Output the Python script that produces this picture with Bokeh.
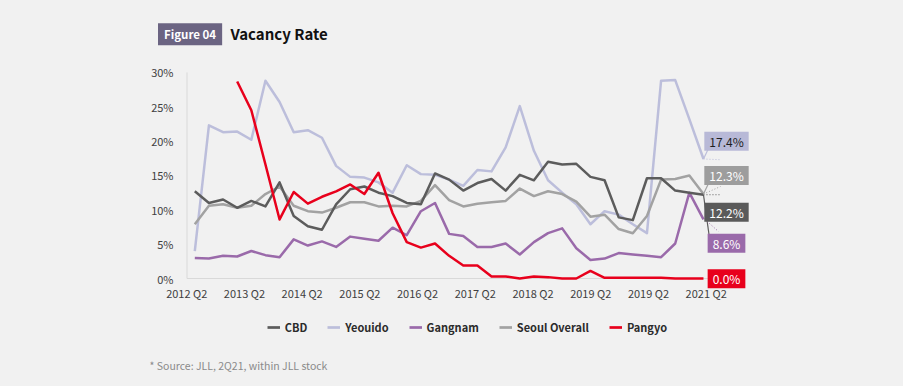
import numpy as np
from bokeh.plotting import figure
from bokeh.layouts import column
from bokeh.models import (Label, Legend, LegendItem, FixedTicker, Range1d,
                          CustomJSTickFormatter)
from bokeh.embed import file_html
from bokeh.resources import INLINE

# ---------------- data ----------------
quarters = list(range(37))  # 2012 Q2 ... 2021 Q2
x_tick_labels = ["2012 Q2", "2013 Q2", "2014 Q2", "2015 Q2", "2016 Q2",
                 "2017 Q2", "2018 Q2", "2019 Q2", "2019 Q2", "2021 Q2"]
y_tick_values = [0, 5, 10, 15, 20, 25, 30]
y_tick_labels = ["0%", "5%", "10%", "15%", "20%", "25%", "30%"]

series_names = ["CBD", "Yeouido", "Gangnam", "Seoul Overall", "Pangyo"]

cbd = [12.7, 11.0, 11.5, 10.3, 11.3, 10.5, 14.0, 9.1, 7.6, 7.1, 10.8, 13.0,
       13.4, 12.5, 12.0, 11.0, 10.8, 15.3, 14.4, 12.8, 13.9, 14.5, 12.8, 15.1,
       14.3, 17.0, 16.6, 16.7, 14.8, 14.3, 8.9, 8.5, 14.6, 14.6, 12.8, 12.5, 12.2]
yeouido = [4.0, 22.3, 21.3, 21.4, 20.2, 28.8, 25.7, 21.3, 21.6, 20.5, 16.4, 14.8,
           14.7, 14.0, 12.5, 16.5, 15.2, 15.1, 14.4, 13.5, 15.8, 15.6, 19.1, 25.1,
           18.6, 14.3, 12.5, 10.8, 7.9, 9.8, 9.3, 7.9, 6.6, 28.8, 28.9, 23.2, 17.4]
gangnam = [3.0, 2.9, 3.3, 3.2, 4.0, 3.4, 3.1, 5.7, 4.8, 5.4, 4.6, 6.1,
           5.8, 5.5, 7.4, 6.3, 9.8, 11.0, 6.5, 6.2, 4.6, 4.6, 5.1, 3.5,
           5.3, 6.6, 7.3, 4.4, 2.7, 2.9, 3.7, 3.5, 3.3, 3.1, 5.1, 12.5, 8.6]
seoul = [7.9, 10.6, 10.8, 10.3, 10.6, 12.3, 13.4, 10.6, 9.8, 9.6, 10.3, 11.1,
         11.1, 10.5, 10.6, 10.5, 11.3, 13.6, 11.4, 10.5, 10.9, 11.1, 11.3, 13.1,
         12.0, 12.7, 12.3, 11.2, 9.0, 9.3, 7.2, 6.6, 9.1, 14.4, 14.5, 15.0, 12.3]
pangyo = [None, None, None, 28.7, 24.5, 16.6, 8.6, 12.6, 10.9, 11.9, 12.7, 13.7,
          12.3, 15.4, 9.5, 5.3, 4.5, 5.1, 3.3, 1.9, 1.9, 0.3, 0.3, 0.0,
          0.3, 0.2, 0.0, 0.0, 1.1, 0.1, 0.1, 0.1, 0.1, 0.1, 0.0, 0.0, 0.0]

last_value_labels = ["12.2%", "17.4%", "8.6%", "12.3%", "0.0%"]

# ---------------- style ----------------
FONT = "Noto Sans CJK KR"
BG = "#f1f1f1"
line_colors = ["#5c5c5c", "#bcbedb", "#9a6aaa", "#a2a2a2", "#e8001c"]
box_colors = ["#5a5a5a", "#b8b9d7", "#9a6aaa", "#9d9d9d", "#e8001c"]
box_text_colors = ["white", "#1e1e1e", "white", "white", "white"]

# page geometry (pixels of the 903x386 page, 8px padding)
M = 8
W = 903 - 2 * M
PX_Q0, PX_DQ = 194.3, 14.13      # x of first quarter, px per quarter
PY_0, PY_PER = 278.0, 6.8667     # y of 0%, px per percent
AXIS_X = 186.5                   # x of the value axis line
F_L, F_R, F_T, F_B = 140, 752, 65, 289
HDR_T, MAIN_T, FTR_T, FTR_B = M, 58, 310, 386 - M


def dx(px):
    return (px - PX_Q0) / PX_DQ


def dy(py):
    return (PY_0 - py) / PY_PER


def blank_fig(top, bottom):
    # frames of the column's figures line up with the chart frame (F_L..F_R)
    f = figure(width=W, height=bottom - top, output_backend="svg",
               toolbar_location=None, x_axis_type=None, y_axis_type=None,
               x_range=Range1d(F_L, F_R), y_range=Range1d(bottom, top),
               min_border=0, min_border_left=F_L - M, min_border_right=(M + W) - F_R,
               min_border_top=0, min_border_bottom=0, title=None,
               background_fill_color=BG, border_fill_color=BG,
               outline_line_color=None)
    return f


# ---------------- header ----------------
hdr = blank_fig(HDR_T, MAIN_T)
hdr.add_layout(Label(x=157.5, y=33.8, text="Figure 04", text_align="left",
                     text_baseline="middle", text_font=FONT, text_font_size="11.5px",
                     text_font_style="bold", text_color="white",
                     background_fill_color="#6b6482",
                     padding=dict(left=6, right=6, top=3, bottom=3)))
hdr.add_layout(Label(x=230, y=32.5, text="Vacancy Rate", text_align="left",
                     text_baseline="middle", text_font=FONT, text_font_size="15px",
                     text_font_style="bold", text_color="#111111"))

# ---------------- main chart ----------------
p = figure(width=W, height=FTR_T - MAIN_T, output_backend="svg",
           toolbar_location=None, title=None,
           x_range=Range1d(dx(F_L), dx(F_R)), y_range=Range1d(dy(F_B), dy(F_T)),
           min_border_left=F_L - M, min_border_right=(M + W) - F_R,
           min_border_top=F_T - MAIN_T, min_border_bottom=FTR_T - F_B,
           background_fill_color=BG, border_fill_color=BG, outline_line_color=None)

p.xgrid.grid_line_color = None
p.ygrid.grid_line_color = None

p.yaxis.ticker = FixedTicker(ticks=y_tick_values)
p.yaxis.major_label_overrides = dict(zip(y_tick_values, y_tick_labels))
p.yaxis.axis_line_color = None
p.yaxis.major_tick_line_color = None
p.yaxis.minor_tick_line_color = None
p.yaxis.major_tick_out = 0
p.yaxis.major_label_standoff = -(173 - F_L)
p.yaxis.major_label_text_font = FONT
p.yaxis.major_label_text_font_size = "11px"
p.yaxis.major_label_text_color = "#404040"

x_ticks = [round(dx(186.2 + 57.72 * k), 3) for k in range(len(x_tick_labels))]
p.xaxis.ticker = FixedTicker(ticks=x_ticks)
p.xaxis.formatter = CustomJSTickFormatter(args=dict(labels=x_tick_labels),
                                          code="return labels[index];")
p.xaxis.axis_line_color = None
p.xaxis.major_tick_line_color = None
p.xaxis.minor_tick_line_color = None
p.xaxis.major_tick_out = 0
p.xaxis.major_label_standoff = -5
p.xaxis.major_label_text_font = FONT
p.xaxis.major_label_text_font_size = "11px"
p.xaxis.major_label_text_color = "#404040"

# value-axis line and 0% baseline
p.segment(x0=[dx(AXIS_X), dx(AXIS_X)], y0=[y_tick_values[0], 0],
          x1=[dx(AXIS_X), quarters[-1] + 0.4], y1=[y_tick_values[-1], 0],
          line_color="#d9d9d9", line_width=1)

values = [cbd, yeouido, gangnam, seoul, pangyo]
draw_order = [1, 3, 2, 0, 4]
for k in draw_order:
    arr = np.array([np.nan if v is None else v for v in values[k]], dtype=float)
    p.line(quarters, arr, line_color=line_colors[k], line_width=2.5,
           line_join="round")

# end-of-line leaders and dotted stubs
last = quarters[-1]
box_x = dx(726)
box_y = {0: dy(211.7), 1: dy(140.8), 2: dy(242.7), 3: dy(175.0), 4: dy(278.3)}
p.segment(x0=[last, last, last], y0=[yeouido[-1], seoul[-1], cbd[-1]],
          x1=[dx(707.5), dx(708), dx(708.5)], y1=[dy(149), dy(183), dy(234)],
          line_color=[line_colors[1], line_colors[3], line_colors[0]], line_width=1.2)
p.segment(x0=[last, last, last, last + 0.1],
          y0=[yeouido[-1], seoul[-1], cbd[-1], gangnam[-1]],
          x1=[dx(720), dx(720), dx(720), dx(718)],
          y1=[yeouido[-1] - 0.1, dy(186), cbd[-1], dy(231)],
          line_color=[line_colors[1], line_colors[3], line_colors[0], line_colors[2]],
          line_width=1, line_dash="1 2")

for k in range(5):
    p.add_layout(Label(x=box_x, y=box_y[k], text=last_value_labels[k],
                       text_align="center", text_baseline="middle",
                       text_font=FONT, text_font_size="12px",
                       text_color=box_text_colors[k],
                       background_fill_color=box_colors[k],
                       padding=dict(left=5, right=5, top=1, bottom=1)))

# ---------------- footer: legend + source ----------------
ftr = blank_fig(FTR_T, FTR_B)
swatches = [ftr.line(x=[np.nan], y=[np.nan], line_color=line_colors[k], line_width=2.7)
            for k in range(5)]
legend = Legend(items=[LegendItem(label=series_names[k], renderers=[swatches[k]])
                       for k in range(5)],
                orientation="horizontal",
                location=(266.7 - F_L, FTR_B - 336.7),
                glyph_width=13, glyph_height=20, label_height=20,
                label_standoff=5, spacing=20,
                padding=0, margin=0, border_line_color=None,
                background_fill_alpha=0,
                label_text_font=FONT, label_text_font_size="11px",
                label_text_font_style="bold", label_text_color="#2b2b2b")
ftr.add_layout(legend)
ftr.add_layout(Label(x=149, y=365, text="* Source: JLL, 2Q21, within JLL stock",
                     text_align="left", text_baseline="middle", text_font=FONT,
                     text_font_size="10.5px", text_color="#8a8a8a"))

layout = column(hdr, p, ftr, spacing=0)

html = file_html(layout, INLINE)
style = ("<style>html, body {background: %s; overflow: hidden;} "
         "body {margin: 0 !important; padding: %dpx !important; "
         "box-sizing: border-box;}</style>\n</head>" % (BG, M))
html = html.replace("</head>", style, 1)
open("out.html", "w").write(html)
